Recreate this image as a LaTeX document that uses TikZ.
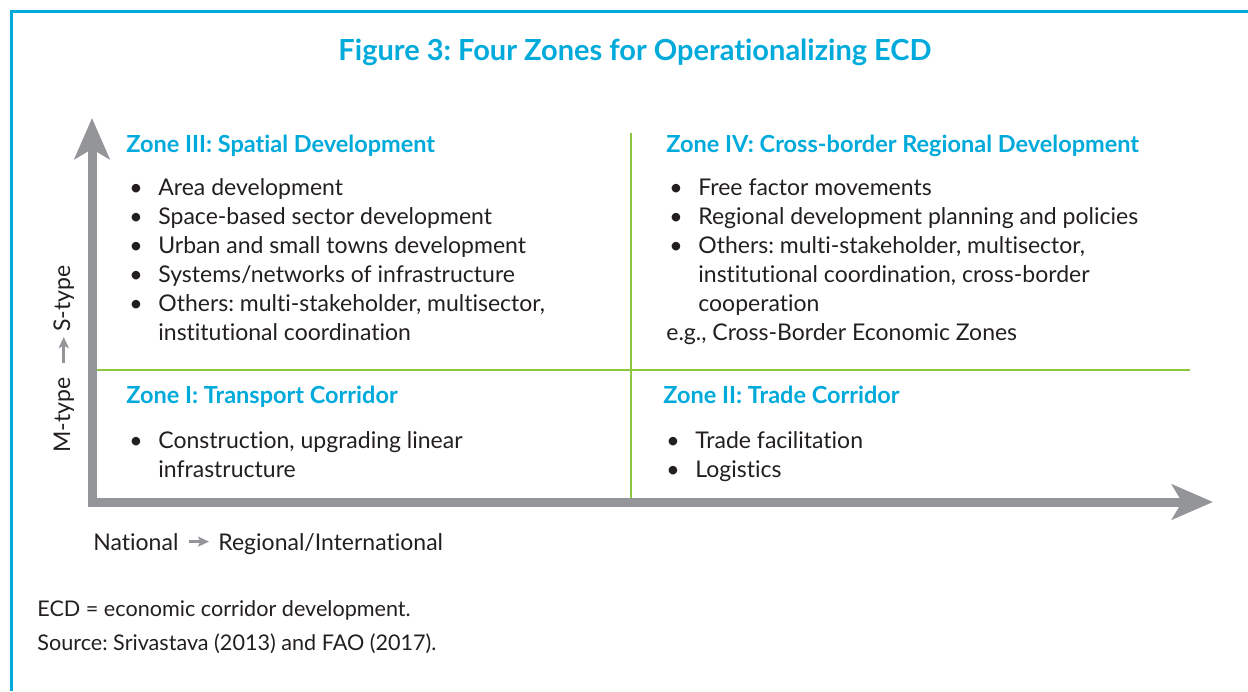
\documentclass[tikz,border=0pt]{standalone}
\usepackage{fontspec}
\setmainfont{Lato}[Ligatures=NoCommon]
\usepackage{xcolor}
\usetikzlibrary{arrows.meta,positioning}
\frenchspacing

\definecolor{adbblue}{RGB}{0,170,219}
\definecolor{zonegreen}{RGB}{141,198,63}
\definecolor{axisgray}{RGB}{147,149,152}
\definecolor{bodytext}{RGB}{35,31,32}

\tikzset{
	frame/.style={adbblue,line width=1.5pt},
	axis/.style={axisgray,line width=4.5pt,line join=miter,
		{Stealth[length=20.5pt,width=17.5pt,inset=5pt]}-{Stealth[length=20.5pt,width=17.5pt,inset=5pt]}},
	divider/.style={zonegreen,line width=1.2pt},
	labelarrow/.style={axisgray,line width=1.3pt,-{Stealth[length=5.5pt,width=5pt,inset=1.2pt]}},
	title/.style={anchor=base,inner sep=0pt,text=adbblue,
		font=\fontsize{14.5}{17}\selectfont\bfseries},
	heading/.style={anchor=base west,inner sep=0pt,text=adbblue,
		font=\fontsize{11.75}{14.5}\selectfont\bfseries},
	zonetext/.style={anchor=base west,inner sep=0pt,text=bodytext,
		font=\fontsize{11.5}{14.5}\selectfont},
	note/.style={anchor=base west,inner sep=0pt,text=bodytext,
		font=\fontsize{10.8}{14}\selectfont}
}

% bullet list: bullet column, then the text
\newenvironment{zonelist}{\begin{tabular}[t]{@{}p{14.5pt}@{}l@{}}}{\end{tabular}}

\begin{document}
\begin{tikzpicture}[x=0.5pt,y=-0.5pt]
	\useasboundingbox (0,0) rectangle (1248,691);

	% frame
	\draw[frame] (11,691) -- (11,11) -- (1248,11);

	\node[title] (title) at (635,60) {Figure 3: Four Zones for Operationalizing ECD};

	% axes
	\coordinate (origin) at (92,502);
	\coordinate (ytop) at (92,118);
	\coordinate (xend) at (1213,502);
	\draw[axis] (ytop) -- (origin) -- (xend);

	% zone dividers
	\coordinate (vtop) at (631,133);
	\coordinate (vbot) at (631,498);
	\coordinate (hleft) at (97,370);
	\coordinate (hright) at (1190,370);
	\draw[divider] (vtop) -- (vbot);
	\draw[divider] (hleft) -- (hright);

	% Zone III
	\node[heading] (zoneIIIhead) at (126,152) {Zone III: Spatial Development};
	\node[zonetext] (zoneIII) at (129,195) {\begin{zonelist}
		\textbullet & Area development\\
		\textbullet & Space-based sector development\\
		\textbullet & Urban and small towns development\\
		\textbullet & Systems/networks of infrastructure\\
		\textbullet & Others: multi-stakeholder, multisector,\\
		& institutional coordination
	\end{zonelist}};

	% Zone IV
	\node[heading] (zoneIVhead) at (666,152) {Zone IV: Cross-border Regional Development};
	\node[zonetext] (zoneIV) at (669,195) {\begin{zonelist}
		\textbullet & Free factor movements\\
		\textbullet & Regional development planning and policies\\
		\textbullet & Others: multi-stakeholder, multisector,\\
		& institutional coordination, cross-border\\
		& cooperation
	\end{zonelist}};
	\node[zonetext] (zoneIVeg) at (666,340) {e.g., Cross-Border Economic Zones};

	% Zone I
	\node[heading] (zoneIhead) at (126,403) {Zone I: Transport Corridor};
	\node[zonetext] (zoneI) at (129,448) {\begin{zonelist}
		\textbullet & Construction, upgrading linear\\
		& infrastructure
	\end{zonelist}};

	% Zone II
	\node[heading] (zoneIIhead) at (663,403) {Zone II: Trade Corridor};
	\node[zonetext] (zoneII) at (666,448) {\begin{zonelist}
		\textbullet & Trade facilitation\\
		\textbullet & Logistics
	\end{zonelist}};

	% axis labels
	\node[zonetext] (national) at (93,550) {National};
	\node[zonetext] (regional) at (218,550) {Regional/International};
	\draw[labelarrow,shorten <=5pt,shorten >=4.5pt] (national.east) -- (national.east -| regional.west);

	\node[zonetext,rotate=90] (mtype) at (70,453) {M-type};
	\node[zonetext,rotate=90] (stype) at (70,332) {S-type};
	\draw[labelarrow,shorten <=7pt,shorten >=2.5pt] (mtype.east) -- (mtype.east |- stype.west);

	% notes
	\node[note] (abbr) at (37,616) {ECD = economic corridor development.};
	\node[note] (source) at (37,650) {Source: Srivastava (2013) and FAO (2017).};
\end{tikzpicture}
\end{document}
